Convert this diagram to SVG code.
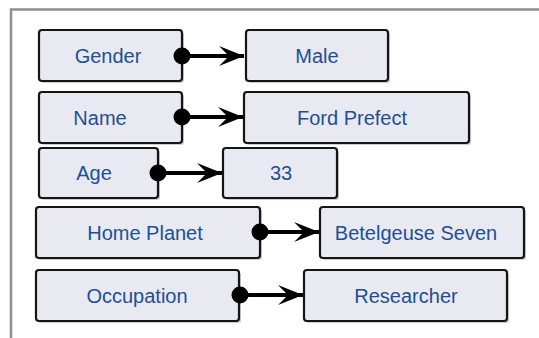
<svg xmlns="http://www.w3.org/2000/svg" width="539" height="338" viewBox="0 0 539 338">
<style>
.box{fill:#e9e9f2;stroke:#151515;stroke-width:2.2;stroke-linejoin:round}
.sh{fill:#8c8c99;opacity:.45}
.lbl{font-family:"Liberation Sans","DejaVu Sans",sans-serif;font-size:20px;fill:#1d4f97;text-anchor:middle}
.conn{stroke:#000;stroke-width:4;fill:none;marker-start:url(#dot);marker-end:url(#barb)}
.frame{stroke:#8f8f8f;stroke-width:2.5;fill:none}
</style>
<defs>
<marker id="dot" markerUnits="userSpaceOnUse" viewBox="-10 -10 20 20" refX="0" refY="0" markerWidth="20" markerHeight="20" orient="auto">
<circle cx="0" cy="0" r="8.5" fill="#000"/>
</marker>
<marker id="barb" markerUnits="userSpaceOnUse" viewBox="-26 -12 28 24" refX="0" refY="0" markerWidth="28" markerHeight="24" orient="auto">
<path d="M0,0 L-25,-10 L-15,0 L-25,10 Z" fill="#000"/>
</marker>
</defs>
<rect width="539" height="338" fill="#fff"/>
<path class="frame" d="M11,338 V9.5 H539"/>

<g id="gender"><rect class="sh" x="41" y="32" width="143" height="51" rx="3"/><rect class="box" x="39" y="30" width="143" height="51" rx="3"/><text class="lbl" x="108" y="63">Gender</text></g>
<g id="male"><rect class="sh" x="248" y="32" width="142" height="51" rx="3"/><rect class="box" x="246" y="30" width="142" height="51" rx="3"/><text class="lbl" x="317" y="63">Male</text></g>
<g id="name"><rect class="sh" x="41" y="94" width="143" height="51" rx="3"/><rect class="box" x="39" y="92" width="143" height="51" rx="3"/><text class="lbl" x="100" y="125">Name</text></g>
<g id="ford-prefect"><rect class="sh" x="246" y="94" width="225" height="51" rx="3"/><rect class="box" x="244" y="92" width="225" height="51" rx="3"/><text class="lbl" x="352" y="125">Ford Prefect</text></g>
<g id="age"><rect class="sh" x="41" y="150" width="119" height="50" rx="3"/><rect class="box" x="39" y="148" width="119" height="50" rx="3"/><text class="lbl" x="94" y="180">Age</text></g>
<g id="v33"><rect class="sh" x="225" y="150" width="114" height="50" rx="3"/><rect class="box" x="223" y="148" width="114" height="50" rx="3"/><text class="lbl" x="281" y="180">33</text></g>
<g id="home-planet"><rect class="sh" x="38" y="209" width="224" height="51" rx="3"/><rect class="box" x="36" y="207" width="224" height="51" rx="3"/><text class="lbl" x="145" y="240">Home Planet</text></g>
<g id="betelgeuse-seven"><rect class="sh" x="322" y="209" width="204" height="51" rx="3"/><rect class="box" x="320" y="207" width="204" height="51" rx="3"/><text class="lbl" x="416" y="240">Betelgeuse Seven</text></g>
<g id="occupation"><rect class="sh" x="38" y="272" width="203" height="51" rx="3"/><rect class="box" x="36" y="270" width="203" height="51" rx="3"/><text class="lbl" x="137" y="303">Occupation</text></g>
<g id="researcher"><rect class="sh" x="306" y="272" width="203" height="51" rx="3"/><rect class="box" x="304" y="270" width="203" height="51" rx="3"/><text class="lbl" x="406" y="303">Researcher</text></g>

<g id="connectors">
<path class="conn" d="M182,56 H244"/>
<path class="conn" d="M182,117 H243"/>
<path class="conn" d="M158,173 H222"/>
<path class="conn" d="M260,232 H319"/>
<path class="conn" d="M240,295 H303"/>
</g>
</svg>
